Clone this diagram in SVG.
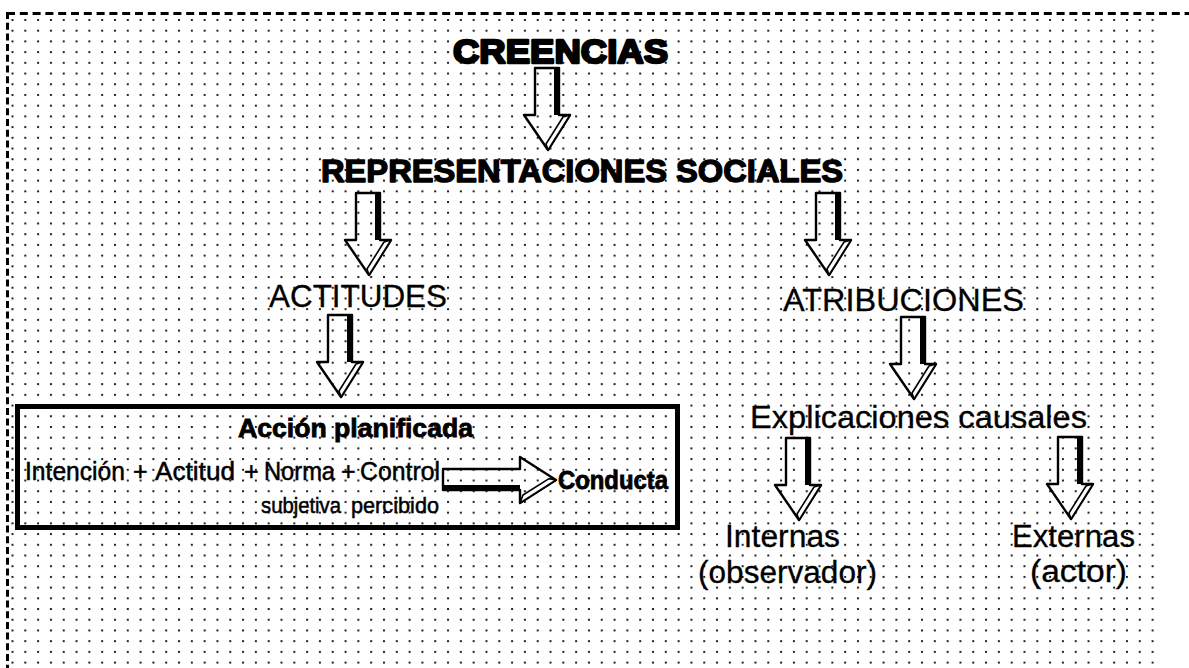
<svg xmlns="http://www.w3.org/2000/svg" width="1189" height="668" viewBox="0 0 1189 668">
<defs>
<style>
text{font-family:"Liberation Sans",Arial,Helvetica,sans-serif;fill:#000}
.h1{font-size:34px;font-weight:bold;stroke:#000;stroke-width:2.4;stroke-linejoin:round}
.h2{font-size:32px;font-weight:bold;stroke:#000;stroke-width:1.4;stroke-linejoin:round}
.t{font-size:31px;stroke:#000;stroke-width:0.3}
.b{font-size:25px;font-weight:bold;stroke:#000;stroke-width:0.8}
.s{font-size:25px;stroke:#000;stroke-width:0.5}
.s2{font-size:22px;stroke:#000;stroke-width:0.5}
.ao{fill:none;stroke:#000;stroke-width:2.4;stroke-linejoin:round}
.band{fill:#fff;stroke:#000;stroke-width:1.6;stroke-linejoin:round}
.brd{fill:none;stroke:#000;stroke-width:3}
</style>
<pattern id="dots" x="11.5" y="19" width="12.81" height="10.71" patternUnits="userSpaceOnUse"><rect width="2" height="2" fill="#222"/></pattern>
<g id="ad">
<path class="ao" d="M-12,0H12V47H23L1,82L-23,47H-12Z"/>
<rect x="7" y="0" width="5.5" height="47"/>
<path class="band" d="M23,47L1,82L-1,76L16,49Z"/>
</g>
</defs>
<rect width="1189" height="668" fill="#fff"/>
<g id="background">
<rect x="10" y="16" width="1146" height="652" fill="url(#dots)"/>
<line class="brd" x1="7" y1="13.5" x2="1189" y2="13.5" stroke-dasharray="8 4.8"/>
<line class="brd" x1="7.5" y1="12" x2="7.5" y2="668" stroke-width="3.5" stroke-dasharray="7 3.7"/>
</g>
<g id="connectors">
<use href="#ad" transform="translate(547,68)"/>
<use href="#ad" transform="translate(368,193)"/>
<use href="#ad" transform="translate(828,193)"/>
<use href="#ad" transform="translate(340,315)"/>
<use href="#ad" transform="translate(913,317)"/>
<use href="#ad" transform="translate(798,438)"/>
<use href="#ad" transform="translate(1070,437)"/>
</g>
<g id="creencias"><text class="h1" x="453" y="63" textLength="215" lengthAdjust="spacingAndGlyphs">CREENCIAS</text></g>
<g id="representaciones"><text class="h2" x="321" y="182" textLength="522" lengthAdjust="spacingAndGlyphs">REPRESENTACIONES SOCIALES</text></g>
<g id="actitudes"><text class="t" x="269" y="307" textLength="178" lengthAdjust="spacingAndGlyphs">ACTITUDES</text></g>
<g id="atribuciones"><text class="t" x="783" y="311" textLength="241" lengthAdjust="spacingAndGlyphs">ATRIBUCIONES</text></g>
<g id="explicaciones"><text class="t" x="750" y="428" textLength="337" lengthAdjust="spacingAndGlyphs">Explicaciones causales</text></g>
<g id="internas">
<text class="t" x="725" y="547" textLength="115" lengthAdjust="spacingAndGlyphs">Internas</text>
<text class="t" x="698" y="583" textLength="179" lengthAdjust="spacingAndGlyphs">(observador)</text>
</g>
<g id="externas">
<text class="t" x="1012" y="547" textLength="123" lengthAdjust="spacingAndGlyphs">Externas</text>
<text class="t" x="1030" y="582" textLength="97" lengthAdjust="spacingAndGlyphs">(actor)</text>
</g>
<g id="accion-planificada">
<rect x="17.5" y="406.5" width="660" height="121" fill="none" stroke="#000" stroke-width="5"/>
<text class="b" x="238" y="437" textLength="235" lengthAdjust="spacingAndGlyphs">Acción planificada</text>
<text class="s" x="25" y="480" textLength="100" lengthAdjust="spacingAndGlyphs">Intención</text>
<text class="s" x="133" y="480">+</text>
<text class="s" x="155" y="480" textLength="80" lengthAdjust="spacingAndGlyphs">Actitud</text>
<text class="s" x="244" y="480">+</text>
<text class="s" x="264" y="480" textLength="71" lengthAdjust="spacingAndGlyphs">Norma</text>
<text class="s" x="341" y="480">+</text>
<text class="s" x="360" y="480" textLength="80" lengthAdjust="spacingAndGlyphs">Control</text>
<text class="s2" x="261" y="513" textLength="80" lengthAdjust="spacingAndGlyphs">subjetiva</text>
<text class="s2" x="351" y="513" textLength="88" lengthAdjust="spacingAndGlyphs">percibido</text>
<path class="ao" d="M443,469H520V457L556,480L520,503V490H443Z"/>
<rect x="444" y="485" width="76" height="5.5"/>
<path class="band" d="M556,480L520,503L523,495L549,478.6Z"/>
<text class="b" x="558" y="489" font-size="27" textLength="110" lengthAdjust="spacingAndGlyphs">Conducta</text>
</g>
</svg>
